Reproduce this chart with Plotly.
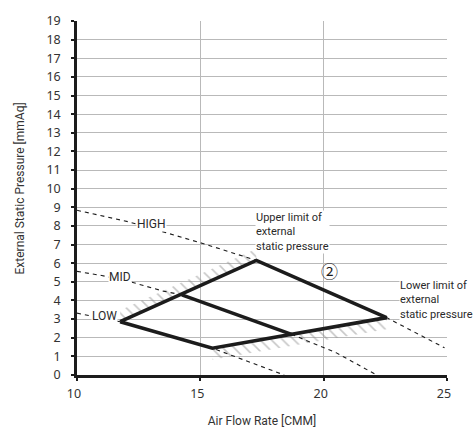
import numpy as np
import plotly.graph_objects as go

# Fan curves (air flow [CMM] vs external static pressure [mmAq])
high_x = [10.0, 12.1, 15.1, 16.9, 17.27, 22.55, 24.9]
high_y = [8.84, 8.22, 7.06, 6.29, 6.15, 3.08, 1.46]

mid_x = [10.0, 11.0, 12.2, 13.5, 14.25, 18.7, 20.5, 22.15]
mid_y = [5.56, 5.34, 4.99, 4.5, 4.3, 2.18, 1.2, 0.0]

low_x = [10.0, 11.75, 15.49, 18.4]
low_y = [3.32, 2.86, 1.44, 0.0]

# Operating range corners: LOW/upper-limit, HIGH/upper-limit, HIGH/lower-limit, LOW/lower-limit
range_x = [11.75, 17.27, 22.55, 15.49, 11.75]
range_y = [2.86, 6.15, 3.08, 1.44, 2.86]

x_ticks = [10, 15, 20, 25]
y_ticks = list(range(0, 20))

HATCH_DEPTH = 0.62  # hatch band thickness in mmAq
label_font = "Roboto, Noto Sans, sans-serif"
tick_font = "Noto Sans, DejaVu Sans, sans-serif"
ink = "#1c1c1c"
text_col = "#2a2a2a"

fig = go.Figure()

# Hatched bands outside the upper-limit and lower-limit edges
def band(x0, y0, x1, y1, depth):
    xs = [x0, x1, x1, x0, x0]
    ys = [y0, y1, y1 + depth, y0 + depth, y0]
    return xs, ys

ux, uy = band(range_x[0], range_y[0], range_x[1], range_y[1], HATCH_DEPTH)
lx, ly = band(range_x[3], range_y[3], range_x[2], range_y[2], -HATCH_DEPTH)
for bx, by in [(ux, uy), (lx, ly)]:
    fig.add_trace(go.Scatter(
        x=bx, y=by, mode="lines", line=dict(width=0, color="rgba(0,0,0,0)"),
        fill="toself", fillcolor="rgba(0,0,0,0)",
        fillpattern=dict(shape="\\", fgcolor="#8f8f8f", bgcolor="rgba(0,0,0,0)",
                         size=8, solidity=0.2, fillmode="overlay"),
        hoverinfo="skip", showlegend=False))

# Dashed fan curves
for cx, cy in [(high_x, high_y), (mid_x, mid_y), (low_x, low_y)]:
    fig.add_trace(go.Scatter(
        x=cx, y=cy, mode="lines",
        line=dict(color=ink, width=1.1, dash="4px,4px"),
        hoverinfo="skip", showlegend=False))

# Operating range outline
fig.add_trace(go.Scatter(
    x=range_x, y=range_y, mode="lines",
    line=dict(color=ink, width=3.6),
    hoverinfo="skip", showlegend=False))

# MID curve inside the operating range
mx = np.array(mid_x)
my = np.array(mid_y)
inside = (mx >= 14.25) & (mx <= 18.7)
fig.add_trace(go.Scatter(
    x=mx[inside], y=my[inside], mode="lines",
    line=dict(color=ink, width=3.6),
    hoverinfo="skip", showlegend=False))

def label(text, x, y, xanchor="center", size=12):
    fig.add_annotation(
        x=x, y=y, text=text, showarrow=False, xanchor=xanchor, yanchor="middle",
        align="left",
        font=dict(family=label_font, size=size, color=text_col),
        bgcolor="white", borderpad=0)

label("HIGH", 13.0, 8.1)
label("MID", 11.73, 5.25)
label("LOW", 11.1, 3.15)
label("Upper limit of<br>external<br>static pressure", 17.2, 7.66, xanchor="left", size=11)
label("Lower limit of<br>external<br>static pressure", 23.05, 4.03, xanchor="left", size=11)

fig.add_annotation(
    x=20.24, y=5.6, text="②", showarrow=False,
    font=dict(family="Noto Sans CJK JP", size=17, color=ink))

# Y axis title
fig.add_annotation(
    xref="paper", yref="paper", x=-0.154, y=0.527, text="External Static Pressure [mmAq]",
    textangle=-90, showarrow=False, xanchor="center", yanchor="middle",
    font=dict(family=label_font, size=12, color="#333333"))

fig.update_layout(
    width=474, height=438,
    margin=dict(l=77, r=27, t=14, b=57),
    paper_bgcolor="white", plot_bgcolor="white",
    showlegend=False,
    font=dict(family=tick_font, color="#333333", size=12),
)

fig.update_xaxes(
    range=[10, 25], tickvals=x_ticks, ticktext=[str(v) for v in x_ticks],
    showgrid=True, gridcolor="#b9b9b9", gridwidth=1,
    showline=True, linecolor=ink, linewidth=2.5,
    ticks="outside", ticklen=3, tickwidth=2, tickcolor=ink,
    ticklabelshift=-3, ticklabelstandoff=2,
    tickfont=dict(size=12.5, color="#333333"),
    zeroline=False,
    title=dict(text="Air Flow Rate [CMM]", font=dict(family=label_font, size=12, color="#333333"),
               standoff=16),
)
fig.update_yaxes(
    range=[0, 19], tickvals=y_ticks, ticktext=[str(v) for v in y_ticks],
    showgrid=True, gridcolor="#b9b9b9", gridwidth=1,
    showline=True, linecolor=ink, linewidth=2.5,
    ticks="outside", ticklen=3, tickwidth=2, tickcolor=ink,
    ticklabelstandoff=8,
    tickfont=dict(size=12.5, color="#333333"),
    zeroline=False,
)

fig.write_html("out.html")
